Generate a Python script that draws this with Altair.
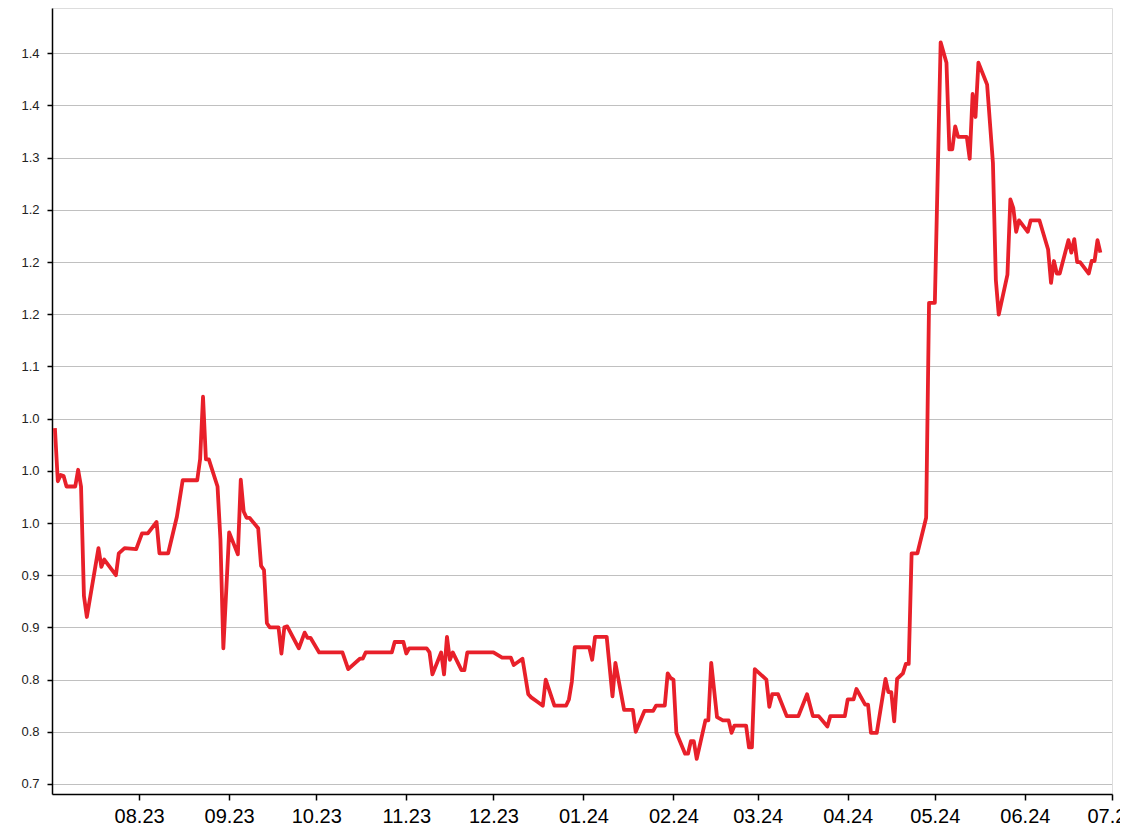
import altair as alt
import pandas as pd

dates = [
    "2023-07-03", "2023-07-04", "2023-07-05", "2023-07-06", "2023-07-07", "2023-07-10",
    "2023-07-11", "2023-07-12", "2023-07-13", "2023-07-14", "2023-07-18", "2023-07-19",
    "2023-07-20", "2023-07-24", "2023-07-25", "2023-07-27", "2023-07-31", "2023-08-02",
    "2023-08-04", "2023-08-07", "2023-08-08", "2023-08-11", "2023-08-14", "2023-08-16",
    "2023-08-21", "2023-08-22", "2023-08-23", "2023-08-24", "2023-08-25", "2023-08-28",
    "2023-08-29", "2023-08-30", "2023-09-01", "2023-09-04", "2023-09-05", "2023-09-06",
    "2023-09-07", "2023-09-08", "2023-09-11", "2023-09-12", "2023-09-13", "2023-09-14",
    "2023-09-15", "2023-09-18", "2023-09-19", "2023-09-20", "2023-09-21", "2023-09-25",
    "2023-09-27", "2023-09-28", "2023-09-29", "2023-10-02", "2023-10-10", "2023-10-12",
    "2023-10-16", "2023-10-17", "2023-10-18", "2023-10-27", "2023-10-28", "2023-10-31",
    "2023-11-01", "2023-11-02", "2023-11-08", "2023-11-09", "2023-11-10", "2023-11-13",
    "2023-11-14", "2023-11-15", "2023-11-16", "2023-11-17", "2023-11-20", "2023-11-21",
    "2023-11-22", "2023-12-01", "2023-12-04", "2023-12-07", "2023-12-08", "2023-12-11",
    "2023-12-13", "2023-12-14", "2023-12-16", "2023-12-18", "2023-12-19", "2023-12-22",
    "2023-12-26", "2023-12-27", "2023-12-28", "2023-12-29", "2024-01-03", "2024-01-04",
    "2024-01-05", "2024-01-09", "2024-01-11", "2024-01-12", "2024-01-15", "2024-01-18",
    "2024-01-19", "2024-01-22", "2024-01-25", "2024-01-26", "2024-01-29", "2024-01-30",
    "2024-01-31", "2024-02-01", "2024-02-02", "2024-02-05", "2024-02-06", "2024-02-07",
    "2024-02-08", "2024-02-09", "2024-02-12", "2024-02-13", "2024-02-14", "2024-02-16",
    "2024-02-18", "2024-02-20", "2024-02-21", "2024-02-22", "2024-02-26", "2024-02-27",
    "2024-02-28", "2024-02-29", "2024-03-04", "2024-03-05", "2024-03-06", "2024-03-08",
    "2024-03-11", "2024-03-15", "2024-03-18", "2024-03-20", "2024-03-22", "2024-03-25",
    "2024-03-26", "2024-03-31", "2024-04-01", "2024-04-03", "2024-04-04", "2024-04-07",
    "2024-04-08", "2024-04-09", "2024-04-11", "2024-04-14", "2024-04-15", "2024-04-16",
    "2024-04-17", "2024-04-18", "2024-04-20", "2024-04-21", "2024-04-22", "2024-04-23",
    "2024-04-25", "2024-04-28", "2024-04-29", "2024-05-01", "2024-05-03", "2024-05-05",
    "2024-05-06", "2024-05-07", "2024-05-08", "2024-05-09", "2024-05-12", "2024-05-13",
    "2024-05-14", "2024-05-15", "2024-05-16", "2024-05-19", "2024-05-21", "2024-05-22",
    "2024-05-23", "2024-05-26", "2024-05-27", "2024-05-28", "2024-05-29", "2024-05-30",
    "2024-06-02", "2024-06-03", "2024-06-06", "2024-06-09", "2024-06-10", "2024-06-11",
    "2024-06-12", "2024-06-13", "2024-06-16", "2024-06-17", "2024-06-18", "2024-06-19",
    "2024-06-20", "2024-06-23", "2024-06-24", "2024-06-25", "2024-06-26", "2024-06-27",
]

values = [
    1.041, 0.990, 0.996, 0.995, 0.985, 0.985,
    1.001, 0.985, 0.880, 0.860, 0.926, 0.908,
    0.915, 0.900, 0.921, 0.926, 0.925, 0.940,
    0.940, 0.951, 0.921, 0.921, 0.956, 0.991,
    0.991, 1.011, 1.071, 1.011, 1.011, 0.985,
    0.934, 0.830, 0.941, 0.920, 0.9915, 0.961,
    0.955, 0.955, 0.945, 0.909, 0.905, 0.854,
    0.850, 0.850, 0.825, 0.850, 0.851, 0.830,
    0.845, 0.840, 0.840, 0.826, 0.826, 0.810,
    0.820, 0.820, 0.826, 0.826, 0.836, 0.836,
    0.825, 0.830, 0.830, 0.826, 0.805, 0.826,
    0.805, 0.841, 0.819, 0.826, 0.809, 0.809,
    0.826, 0.826, 0.821, 0.821, 0.814, 0.820,
    0.786, 0.783, 0.779, 0.775, 0.800, 0.775,
    0.775, 0.781, 0.798, 0.831, 0.831, 0.819,
    0.841, 0.841, 0.784, 0.816, 0.771, 0.771,
    0.750, 0.770, 0.770, 0.775, 0.775, 0.806,
    0.8015, 0.800, 0.749, 0.729, 0.729, 0.741,
    0.741, 0.724, 0.761, 0.761, 0.816, 0.764,
    0.761, 0.761, 0.749, 0.756, 0.756, 0.735,
    0.735, 0.810, 0.800, 0.774, 0.786, 0.786,
    0.765, 0.765, 0.786, 0.765, 0.765, 0.755,
    0.765, 0.765, 0.781, 0.781, 0.791, 0.776,
    0.776, 0.749, 0.749, 0.8006, 0.788, 0.788,
    0.760, 0.8006, 0.806, 0.815, 0.815, 0.921,
    0.921, 0.955, 1.161, 1.161, 1.4105, 1.391,
    1.308, 1.308, 1.330, 1.320, 1.320, 1.299,
    1.361, 1.339, 1.391, 1.370, 1.295, 1.183,
    1.1496, 1.188, 1.260, 1.252, 1.229, 1.240,
    1.229, 1.240, 1.240, 1.212, 1.180, 1.201,
    1.189, 1.189, 1.221, 1.209, 1.222, 1.200,
    1.200, 1.189, 1.201, 1.201, 1.221, 1.209,
]

x_ticks = ["2023-08-01", "2023-09-01", "2023-10-01", "2023-11-01", "2023-12-01",
           "2024-01-01", "2024-02-01", "2024-03-01", "2024-04-01", "2024-05-01",
           "2024-06-01", "2024-07-01"]
y_ticks = [0.70, 0.75, 0.80, 0.85, 0.90, 0.95, 1.00, 1.05, 1.10, 1.15,
           1.20, 1.25, 1.30, 1.35, 1.40]
y_labels = ["0.7", "0.8", "0.8", "0.9", "0.9", "1.0", "1.0", "1.0", "1.1", "1.2",
            "1.2", "1.2", "1.3", "1.4", "1.4"]

df = pd.DataFrame({"date": dates, "value": values})

def ms(s):
    return int(pd.Timestamp(s, tz="UTC").value // 10**6)

x_vals = [ms(s) for s in x_ticks]
x_domain = [ms("2023-07-02"), ms("2024-07-01")]

label_arr = "[" + ",".join("'" + l + "'" for l in y_labels) + "]"
y_label_expr = label_arr + "[round((datum.value - 0.7) * 20)]"

chart = alt.Chart(df).mark_line(
    color="#e8202a", strokeWidth=3.8, strokeJoin="round"
).encode(
    x=alt.X("date:T", title=None,
            scale=alt.Scale(type="utc", domain=x_domain, nice=False),
            axis=alt.Axis(values=x_vals, format="%m.%y", grid=False,
                          tickSize=6, tickColor="#000", tickWidth=1.5,
                          domainColor="#000", domainWidth=1.5,
                          labelFontSize=20, labelFont="Liberation Sans",
                          labelColor="#000", labelPadding=6,
                          labelOverlap=False, labelFlush=False)),
    y=alt.Y("value:Q", title=None,
            scale=alt.Scale(domain=[0.6904, 1.4434], nice=False, zero=False),
            axis=alt.Axis(values=y_ticks, labelExpr=y_label_expr,
                          grid=True, gridColor="#808080", gridDash=[1, 1],
                          gridWidth=1, tickSize=5, tickColor="#000",
                          tickWidth=1.5, domainColor="#000", domainWidth=1.5,
                          labelFontSize=13, labelFont="Liberation Sans",
                          labelColor="#222", labelPadding=8,
                          labelOverlap=False, labelFlush=False)),
).properties(
    width=1060, height=786,
    autosize=alt.AutoSizeParams(type="none"),
    padding={"left": 44, "top": 0, "right": 8, "bottom": 34},
).configure_view(
    stroke="#000", strokeWidth=1.5
).configure(background="white")

chart.save("out.html", embed_options={"renderer": "svg", "actions": False})
